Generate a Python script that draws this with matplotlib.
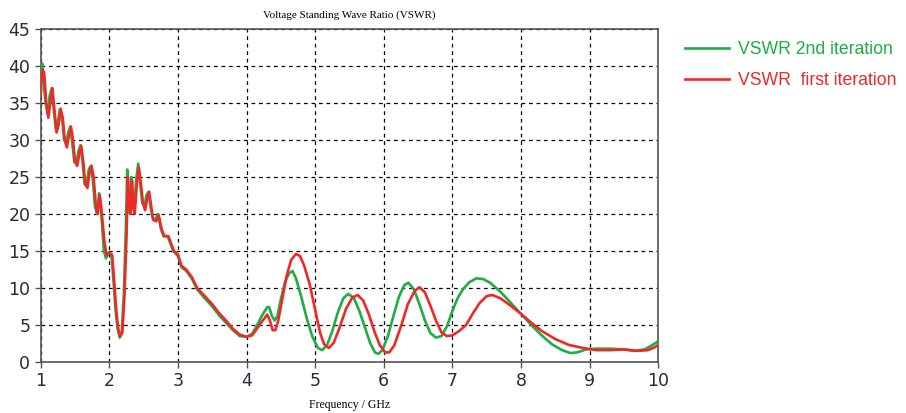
import numpy as np
import matplotlib
matplotlib.use('Agg')
import matplotlib.pyplot as plt

# ---- data ----
freq_red = [1.0, 1.01, 1.03, 1.05, 1.08, 1.11, 1.14, 1.17, 1.2, 1.23, 1.26, 1.29, 1.32, 1.35, 1.38,
            1.41, 1.44, 1.47, 1.5, 1.53, 1.56, 1.59, 1.62, 1.65, 1.68, 1.71, 1.74, 1.77, 1.8, 1.83,
            1.86, 1.88, 1.9, 1.93, 1.96, 2.0, 2.04, 2.07, 2.1, 2.13, 2.16, 2.19, 2.22, 2.25, 2.27,
            2.29, 2.31, 2.33, 2.35, 2.37, 2.4, 2.43, 2.46, 2.49, 2.52, 2.55, 2.58, 2.61, 2.64, 2.68,
            2.72, 2.76, 2.8, 2.86, 2.9, 2.94, 3.0, 3.05, 3.12, 3.2, 3.28, 3.4, 3.5, 3.6, 3.7, 3.8,
            3.9, 4.0, 4.08, 4.15, 4.22, 4.3, 4.34, 4.38, 4.42, 4.46, 4.52, 4.58, 4.65, 4.72, 4.78,
            4.84, 4.92, 5.0, 5.07, 5.13, 5.2, 5.27, 5.35, 5.45, 5.54, 5.62, 5.7, 5.78, 5.86, 5.94,
            6.02, 6.08, 6.15, 6.25, 6.35, 6.45, 6.52, 6.6, 6.68, 6.76, 6.84, 6.92, 7.0, 7.1, 7.2,
            7.3, 7.4, 7.5, 7.58, 7.7, 7.85, 8.0, 8.15, 8.3, 8.5, 8.7, 8.9, 9.1, 9.3, 9.5, 9.7,
            9.85, 9.95, 10.0]
vswr_red = [36, 38, 39.5, 39, 35, 33, 35, 37, 34, 31, 32, 34.2, 33, 30, 29,
            30.5, 31.8, 30, 27, 26.5, 28, 29.2, 27, 24, 23.5, 25.5, 26.5, 25, 21.5, 20,
            22.5, 21, 19, 16, 14.5, 14.7, 14.5, 11, 7, 4.5, 3.5, 4, 9, 17, 25,
            22, 20, 24.5, 21, 20, 24, 26.3, 24, 21.5, 20.5, 22, 23, 21, 19.2, 19,
            19.8, 18, 17, 17, 16, 15, 14.5, 13, 12.5, 11.5, 10, 8.8, 7.8, 6.6, 5.6, 4.5,
            3.7, 3.4, 3.6, 4.5, 5.4, 6.4, 5.6, 4.3, 4.3, 5.5, 8.5, 11.5, 13.8, 14.6, 14.3,
            13, 10.5, 7.0, 4, 2.4, 1.9, 2.6, 4.5, 7.2, 8.7, 9.05, 8.3, 6.5, 4.2, 2.3,
            1.3, 1.3, 2.2, 4.8, 7.8, 9.6, 10.1, 9.4, 7.6, 5.6, 4.0, 3.5, 3.6, 4.2, 5.0,
            6.6, 8.0, 8.9, 9.05, 8.6, 7.6, 6.5, 5.3, 4.2, 3.1, 2.3, 1.9, 1.6, 1.6, 1.7, 1.5,
            1.6, 2.0, 2.3]

freq_green = [1.0, 1.01, 1.025, 1.04, 1.07, 1.1, 1.13, 1.16, 1.19, 1.22, 1.25, 1.28, 1.31, 1.34,
              1.37, 1.4, 1.43, 1.46, 1.49, 1.52, 1.55, 1.58, 1.61, 1.64, 1.67, 1.7, 1.73, 1.76,
              1.79, 1.82, 1.85, 1.87, 1.89, 1.92, 1.95, 1.99, 2.03, 2.06, 2.09, 2.12, 2.15, 2.18,
              2.21, 2.24, 2.26, 2.28, 2.3, 2.32, 2.34, 2.36, 2.39, 2.42, 2.45, 2.48, 2.51, 2.54,
              2.57, 2.6, 2.63, 2.67, 2.71, 2.75, 2.79, 2.85, 2.89, 2.93, 3.0, 3.05, 3.12, 3.2,
              3.28, 3.4, 3.5, 3.6, 3.7, 3.8, 3.9, 4.0, 4.08, 4.15, 4.22, 4.3, 4.33, 4.37, 4.41,
              4.45, 4.5, 4.56, 4.62, 4.67, 4.72, 4.8, 4.88, 4.96, 5.04, 5.1, 5.17, 5.25, 5.33,
              5.41, 5.48, 5.56, 5.64, 5.72, 5.8, 5.87, 5.92, 5.98, 6.06, 6.14, 6.22, 6.3, 6.36,
              6.44, 6.52, 6.6, 6.68, 6.76, 6.84, 6.92, 7.0, 7.08, 7.16, 7.25, 7.35, 7.45, 7.55,
              7.7, 7.85, 8.0, 8.15, 8.3, 8.45, 8.6, 8.72, 8.82, 8.95, 9.1, 9.3, 9.5, 9.65, 9.8,
              9.9, 10.0]
vswr_green = [38, 40, 40.3, 38, 35, 33.5, 36, 37, 34, 31.5, 32.5, 34.2, 33, 30,
              29.5, 31, 31.8, 29.5, 27, 27, 28.5, 29.3, 27, 24, 24, 26, 26.5, 24.5,
              21, 20, 22.8, 21.5, 19, 15, 14, 14.8, 14.5, 11, 7, 4.5, 3.3, 4,
              9, 18, 26, 22, 20, 25, 21, 20.5, 24.5, 26.8, 24, 21.5, 21, 22.5,
              23, 21, 19.5, 19.2, 20, 18, 17, 17, 16, 15, 14.3, 12.8, 12.3, 11.3,
              9.8, 8.5, 7.5, 6.3, 5.3, 4.3, 3.5, 3.4, 3.8, 4.9, 6.2, 7.4, 7.4, 6.2, 5.6,
              6.2, 8.5, 10.8, 12.0, 12.3, 11.3, 8.7, 5.8, 3.4, 1.9, 1.6, 2.2, 4.2, 6.7,
              8.6, 9.2, 8.7, 7.0, 4.8, 2.6, 1.3, 1.1, 1.6, 3.5, 6.2, 8.8, 10.4, 10.7,
              9.8, 7.8, 5.6, 3.9, 3.3, 3.5, 4.8, 6.9, 8.7, 9.9, 10.8, 11.3, 11.2, 10.7,
              9.5, 8.0, 6.5, 5.0, 3.6, 2.4, 1.6, 1.2, 1.3, 1.7, 1.8, 1.8, 1.7, 1.5, 1.7,
              2.2, 2.8]

x_ticks = [1, 2, 3, 4, 5, 6, 7, 8, 9, 10]
y_ticks = [0, 5, 10, 15, 20, 25, 30, 35, 40, 45]

green = '#1fad45'
red = '#f02828'

fig = plt.figure(figsize=(9.06, 4.13), dpi=100)
ax = fig.add_axes([0.045, 0.1235, 0.6815, 0.8065])

ax.plot(freq_green, vswr_green, color=green, lw=1.9, label='VSWR 2nd iteration', zorder=3)
ax.plot(freq_red, vswr_red, color=red, lw=1.9, label='VSWR  first iteration', zorder=4)

ax.set_xlim(1, 10)
ax.set_ylim(0, 45)
ax.set_xticks(x_ticks)
ax.set_yticks(y_ticks)
ax.tick_params(labelsize=12.5, colors='#555555', labelcolor='#2a2a3a', length=4, width=1)
for s in ax.spines.values():
    s.set_color('#555555')
    s.set_linewidth(1.2)

ax.grid(True, color='black', linestyle=(0, (3, 3)), linewidth=0.9)

ax.set_title('Voltage Standing Wave Ratio (VSWR)', fontsize=8, family='Liberation Serif', pad=8)
ax.set_xlabel('Frequency / GHz', fontsize=8.5, family='Liberation Serif', labelpad=6)

leg = fig.legend(loc='upper left', bbox_to_anchor=(0.738, 0.938), frameon=False,
                 prop={'family': 'Liberation Sans', 'size': 12.7},
                 handlelength=2.55, labelcolor='linecolor', handletextpad=0.5, labelspacing=0.78)

fig.savefig('out.png', dpi=100)
